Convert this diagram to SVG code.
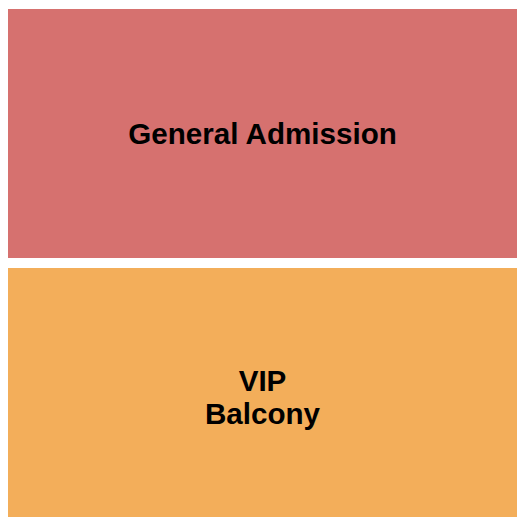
<svg xmlns="http://www.w3.org/2000/svg" width="525" height="525" viewBox="0 0 525 525">
<style>
.lbl{font-family:"Liberation Sans",Arial,sans-serif;font-weight:bold;font-size:29.6px;fill:#000;text-anchor:middle}
</style>
<rect width="525" height="525" fill="#ffffff"/>
<g id="general-admission">
<rect x="8" y="9" width="509" height="249" fill="#D6716F"/>
<text class="lbl" x="262.5" y="144">General Admission</text>
</g>
<g id="vip-balcony">
<rect x="8" y="268" width="509" height="249" fill="#F3AE5A"/>
<text class="lbl" x="262.5" y="391">VIP</text>
<text class="lbl" x="262.5" y="424">Balcony</text>
</g>
<g id="connectors"></g>
</svg>
